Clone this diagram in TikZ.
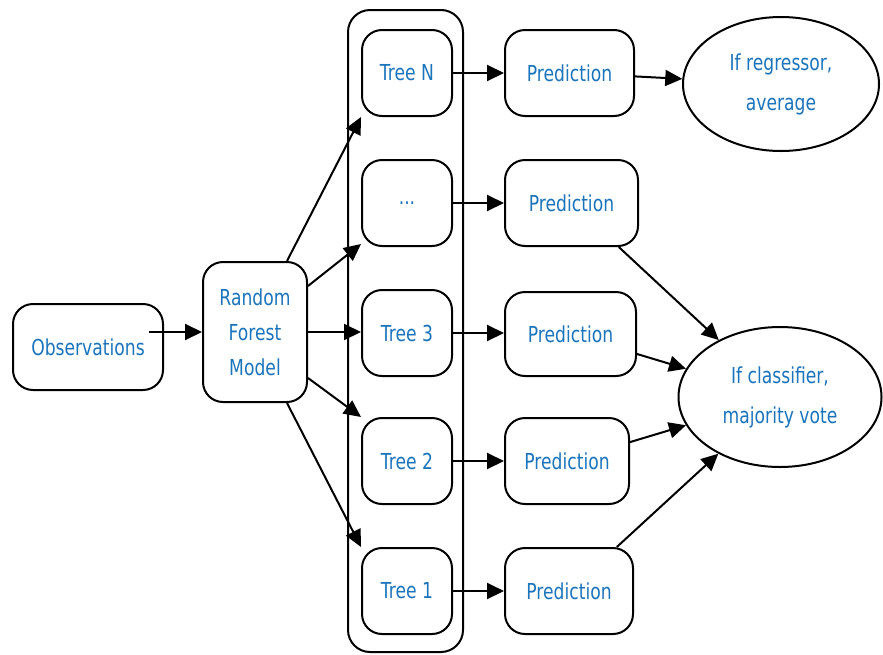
\documentclass[tikz,border=0pt]{standalone}
\usepackage{fontspec}
\setmainfont{DejaVu Sans}[FakeStretch=0.78]
\usetikzlibrary{arrows.meta,shapes.geometric}
\definecolor{txtblue}{RGB}{27,117,188}
\tikzset{
  rbox/.style={draw, line width=2pt, rounded corners=20pt, fill=white, text=txtblue, align=center, inner sep=0pt,
     font=\fontsize{22}{35}\selectfont},
  ell/.style={draw, ellipse, line width=2pt, fill=white, text=txtblue, align=center, inner sep=0pt,
     font=\fontsize{22}{40}\selectfont},
  arr/.style={line width=2pt, -{Triangle[length=17pt,width=16pt]}},
}
\begin{document}
\begin{tikzpicture}[x=1pt,y=-1pt]
\useasboundingbox (0,0) rectangle (883,654);
% container
\node[draw, line width=2pt, rounded corners=22pt, minimum width=115pt, minimum height=642pt, inner sep=0pt] (cont) at (405.5,331) {};
% left
\node[rbox, minimum width=150pt, minimum height=86pt] (obs) at (88,347) {Observations};
\node[rbox, minimum width=104pt, minimum height=140pt] (rf) at (255,332) {Random\\Forest\\Model};
% trees
\node[rbox, minimum width=90pt, minimum height=86pt] (tN) at (407,73) {Tree N};
\node[rbox, minimum width=90pt, minimum height=86pt] (tD) at (407,203) {...};
\node[rbox, minimum width=90pt, minimum height=86pt] (t3) at (407,333) {Tree 3};
\node[rbox, minimum width=90pt, minimum height=86pt] (t2) at (407,461) {Tree 2};
\node[rbox, minimum width=90pt, minimum height=86pt] (t1) at (407,591) {Tree 1};
% predictions
\node[rbox, minimum width=129pt, minimum height=86pt] (pN) at (569.5,73) {Prediction};
\node[rbox, minimum width=133pt, minimum height=86pt] (pD) at (571.5,203) {Prediction};
\node[rbox, minimum width=131pt, minimum height=84pt] (p3) at (570.5,334) {Prediction};
\node[rbox, minimum width=124pt, minimum height=86pt] (p2) at (567,461) {Prediction};
\node[rbox, minimum width=128pt, minimum height=86pt] (p1) at (569,591) {Prediction};
% ellipses
\node[ell, minimum width=196pt, minimum height=134pt] (reg) at (781,84) {If regressor,\\average};
\node[ell, minimum width=203pt, minimum height=140pt] (cls) at (780,397) {If classifier,\\majority vote};
% connectors
\draw[arr] ([xshift=-15pt]obs.east |- rf.west) -- (rf.west);
\draw[arr] ([xshift=32pt]rf.north) -- (tN.south west);
\draw[arr] ([yshift=-25pt]rf.north east) -- ([yshift=3pt]tD.south west);
\draw[arr] (rf.east) -- (rf.east -| t3.west);
\draw[arr] ([yshift=-46pt]rf.east) -- (t2.north west);
\draw[arr] ([xshift=32pt]rf.south) -- (t1.north west);
\foreach \a/\b in {tN/pN,tD/pD,t3/p3,t2/p2,t1/p1}
  \draw[arr] (\a.east) -- (\a.east -| \b.west);
\draw[arr] (pN) -- (reg);
\foreach \p in {pD,p3,p2,p1}
  \draw[arr] (\p) -- (cls);
\end{tikzpicture}
\end{document}
